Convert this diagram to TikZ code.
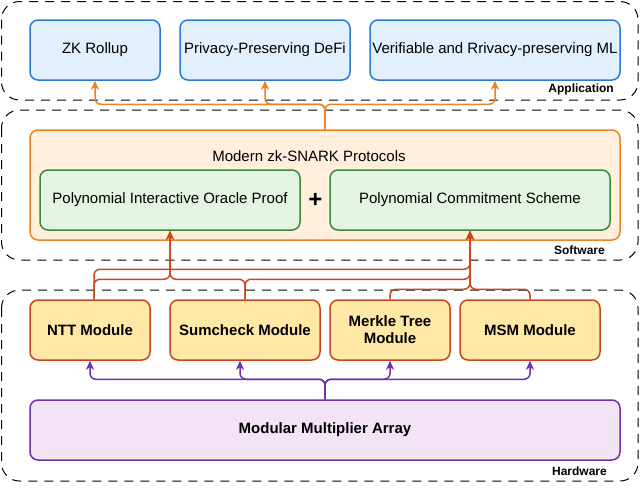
\documentclass[tikz,border=0pt]{standalone}
\usepackage{fontspec}
\setmainfont{Liberation Sans}
\usetikzlibrary{arrows.meta}
\definecolor{appfill}{HTML}{E2EFFC}
\definecolor{appline}{HTML}{2B7BD6}
\definecolor{swfill}{HTML}{FFEFDC}
\definecolor{swline}{HTML}{F08224}
\definecolor{grfill}{HTML}{E5F3E4}
\definecolor{grline}{HTML}{3A883A}
\definecolor{hwfill}{HTML}{FFE8A6}
\definecolor{hwline}{HTML}{C7481E}
\definecolor{mmfill}{HTML}{F2E3F5}
\definecolor{mmline}{HTML}{7030A8}
\begin{document}
\begin{tikzpicture}[>={Stealth[length=9pt,width=8pt,inset=2.5pt]},x=1pt,y=-1pt,
	font=\fontsize{15}{17}\selectfont,
	group/.style={draw=black,line width=1pt,dash pattern=on 9pt off 7pt,rounded corners=18pt},
	grouplabel/.style={anchor=east,inner sep=0pt,font=\fontsize{12}{14}\selectfont\bfseries},
	box/.style={line width=1.5pt,rounded corners=8pt,minimum height=60pt,inner sep=0pt,align=center},
	appbox/.style={box,draw=appline,fill=appfill},
	piopbox/.style={box,draw=grline,fill=grfill},
	hwbox/.style={box,draw=hwline,fill=hwfill,font=\fontsize{15}{17}\selectfont\bfseries},
	apparrow/.style={->,draw=swline,line width=1.5pt,rounded corners=6pt},
	swarrow/.style={->,draw=hwline,line width=1.5pt,rounded corners=6pt},
	hwarrow/.style={->,draw=mmline,line width=1.5pt,rounded corners=6pt}]
		\useasboundingbox (0,0) rectangle (641,488);
		\draw[group] (1.5,1.5) rectangle (638,100);
		\draw[group] (1.5,110) rectangle (638,260);
		\draw[group] (1.5,290) rectangle (638,481);
		\node[grouplabel] (applabel) at (614,89) {Application};
		\node[grouplabel] (swlabel) at (605,250) {Software};
		\node[grouplabel] (hwlabel) at (607,471) {Hardware};
		\node[appbox,minimum width=130pt] (zk) at (95,50) {ZK Rollup};
		\node[appbox,minimum width=170pt] (defi) at (265,50) {Privacy-Preserving DeFi};
		\node[appbox,minimum width=250pt] (ml) at (495,50) {Verifiable and Rrivacy-preserving ML};
		\node[box,draw=swline,fill=swfill,minimum width=590pt,minimum height=110pt] (snark) at (325,185) {};
		\node (snarktitle) at (309,156) {Modern zk-SNARK Protocols};
		\node[piopbox,minimum width=260pt] (piop) at (170,200) {Polynomial Interactive Oracle Proof};
		\node[piopbox,minimum width=280pt] (pcs) at (470,200) {Polynomial Commitment Scheme};
		\node[font=\fontsize{24}{24}\selectfont\bfseries] (plus) at (315.5,200) {+};
		\node[hwbox,minimum width=120pt] (ntt) at (90,330) {NTT Module};
		\node[hwbox,minimum width=150pt] (sum) at (245,330) {Sumcheck Module};
		\node[hwbox,minimum width=120pt] (merkle) at (390,330) {Merkle Tree\\Module};
		\node[hwbox,minimum width=140pt] (msm) at (530,330) {MSM Module};
		\node[box,draw=mmline,fill=mmfill,minimum width=590pt,font=\fontsize{15}{17}\selectfont\bfseries] (mma) at (325,430) {Modular Multiplier Array};
		\draw[apparrow] (snark.north) -- ++(0,-25) -| (zk.south);
		\draw[apparrow] (snark.north) -- ++(0,-25) -| (defi.south);
		\draw[apparrow] (snark.north) -- ++(0,-25) -| (ml.south);
		\draw[swarrow] ([xshift=4pt]ntt.north) -- ++(0,-30) -| (pcs.south);
		\draw[swarrow] ([xshift=4pt]ntt.north) -- ++(0,-20) -| (piop.south);
		\draw[swarrow] (sum.north) -- ++(0,-20) -| (piop.south);
		\draw[swarrow] (sum.north) -- ++(0,-20) -| (pcs.south);
		\draw[swarrow] (merkle.north) -- ++(0,-10) -| (pcs.south);
		\draw[swarrow] (msm.north) -- ++(0,-10) -| (pcs.south);
		\draw[hwarrow] (mma.north) -- ++(0,-20) -| (ntt.south);
		\draw[hwarrow] (mma.north) -- ++(0,-20) -| ([xshift=-5pt]sum.south);
		\draw[hwarrow] (mma.north) -- ++(0,-20) -| (merkle.south);
		\draw[hwarrow] (mma.north) -- ++(0,-20) -| (msm.south);
\end{tikzpicture}
\end{document}
